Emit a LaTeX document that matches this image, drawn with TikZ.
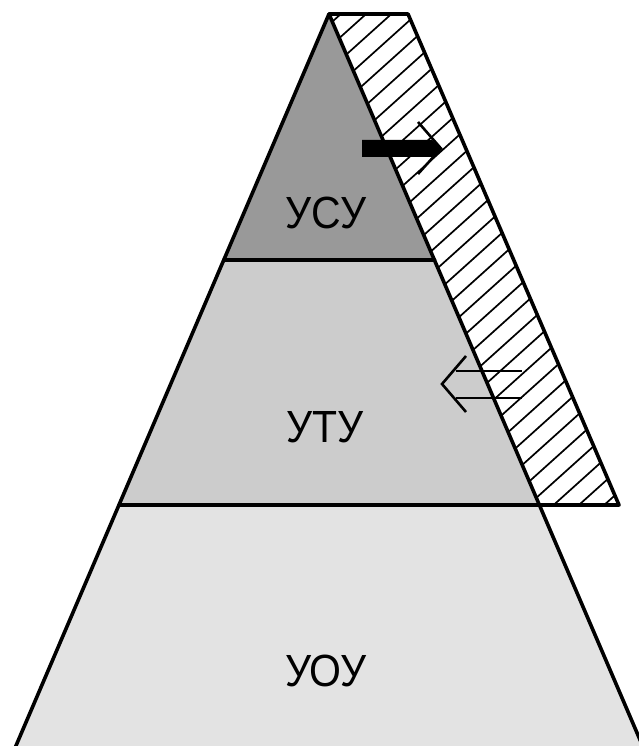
\documentclass[tikz,border=0pt]{standalone}
\usepackage{fontspec}
\setmainfont{Liberation Sans}
\definecolor{topgray}{RGB}{153,153,153}
\definecolor{midgray}{RGB}{204,204,204}
\definecolor{lowgray}{RGB}{227,227,227}
\tikzset{
  edge/.style={line width=3.6pt, line cap=round, line join=round},
  hatchline/.style={line width=1.7pt},
  chev/.style={line width=2.6pt, line join=miter},
  lvl/.style={font=\fontsize{41}{41}\selectfont, inner sep=0pt}
}
\begin{document}
\begin{tikzpicture}[x=1pt,y=-1pt]
\useasboundingbox (0,0) rectangle (639,746);
\begin{scope}
\clip (0,0) rectangle (639,746);
% coordinates
\coordinate (A) at (329,14);
\coordinate (L1) at (224,260);
\coordinate (R1) at (434.5,260);
\coordinate (L2) at (119,505);
\coordinate (R2) at (539.5,505);
\coordinate (L3) at (15,748);
\coordinate (R3) at (643.5,748);
\coordinate (P1) at (408,14);
\coordinate (P2) at (619,505);
% fills
\fill[lowgray] (L2) -- (R2) -- (R3) -- (L3) -- cycle;
\fill[midgray] (L1) -- (R1) -- (R2) -- (L2) -- cycle;
\fill[topgray] (A) -- (R1) -- (L1) -- cycle;
% hatched band
\fill[white] (A) -- (P1) -- (P2) -- (R2) -- cycle;
\begin{scope}
\clip (A) -- (P1) -- (P2) -- (R2) -- cycle;
\foreach \c in {298,320.75,...,1120} {
  \draw[hatchline] (300,\c-270) -- (680,\c-612);
}
\end{scope}
% outlines
\draw[edge] (L3) -- (A) -- (R3);
\draw[edge] (A) -- (P1) -- (P2) -- (L2);
\draw[edge] (L1) -- (R1);
% labels
\node[lvl] (usu) at (326,213) {\scalebox{1}[1.1]{УСУ}};
\node[lvl] (utu) at (325,427) {\scalebox{1}[1.1]{УТУ}};
\node[lvl] (uou) at (326,671) {\scalebox{1}[1.1]{УОУ}};
% black arrow
\fill (362,140) -- (432,140) -- (441,148.5) -- (432,157) -- (362,157) -- cycle;
\draw[chev] (418,122) -- (441,148.5) -- (418,174);
% hollow double arrow
\draw[chev] (456,371) -- (522,371);
\draw[chev] (456,398) -- (522,398);
\draw[chev] (466,356) -- (442,384) -- (466,412);
\end{scope}
\end{tikzpicture}
\end{document}
